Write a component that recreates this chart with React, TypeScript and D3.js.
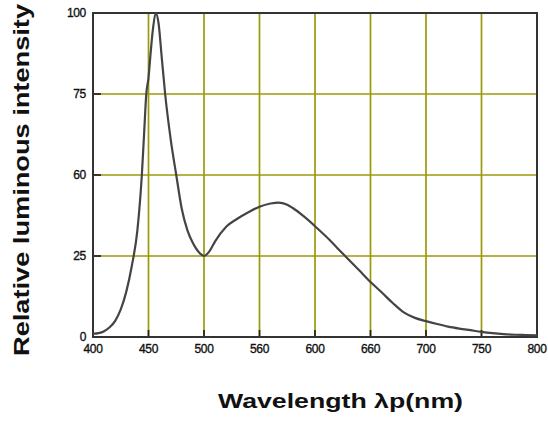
import { useEffect, useRef } from 'react';
import * as d3 from 'd3';

// wavelength (nm) / relative intensity (%)
const wavelengths = [
  400, 405, 410, 415, 420, 425, 430, 435, 440, 444, 446, 448, 450, 452, 454, 456.5,
  459, 462, 465, 470, 475, 480, 485, 490, 495, 500, 505, 510, 520, 530, 540, 550,
  560, 567, 575, 580, 590, 600, 610, 620, 630, 640, 650, 660, 670, 680, 690, 700,
  710, 720, 730, 740, 750, 760, 770, 780, 790, 800,
];
const intensity = [
  1.0, 1.2, 1.8, 3.0, 5.0, 8.5, 14, 22, 33, 50, 62.5, 75, 80, 88, 95, 100,
  97, 86, 75, 61, 50, 39.5, 33, 29, 26.3, 25, 26.5, 29.5, 34, 36.5, 38.5, 40.2,
  41.2, 41.5, 40.8, 39.8, 37.2, 34.2, 31, 27.5, 24, 20.5, 17, 13.8, 10.5, 7.6, 5.9, 4.9,
  4.0, 3.2, 2.6, 2.1, 1.6, 1.2, 0.9, 0.7, 0.6, 0.5,
];

const xTicks = [400, 450, 500, 550, 600, 650, 700, 750, 800];
const xTickLabels = ['400', '450', '500', '560', '600', '660', '700', '750', '800'];
const yTicks = [0, 25, 50, 75, 100];
const yTickLabels = ['0', '25', '60', '75', '100'];

const xTitle = 'Wavelength λp(nm)';
const yTitle = 'Relative luminous intensity';

const W = 548;
const H = 421;
const margin = { left: 93, right: 11, top: 13, bottom: 84 };

const App = () => {
  const svgRef = useRef<SVGSVGElement>(null);

  useEffect(() => {
    if (!svgRef.current) return;
    const svg = d3.select(svgRef.current);
    svg.selectAll('*').remove();

    const x = d3.scaleLinear().domain([400, 800]).range([margin.left, W - margin.right]);
    const y = d3.scaleLinear().domain([0, 100]).range([H - margin.bottom, margin.top]);

    const gridColor = '#9c9a0a';

    // grid
    svg
      .append('g')
      .selectAll('line')
      .data(xTicks.slice(1, -1))
      .join('line')
      .attr('x1', (d) => x(d))
      .attr('x2', (d) => x(d))
      .attr('y1', y(0))
      .attr('y2', y(100))
      .attr('stroke', gridColor)
      .attr('stroke-width', 1.7);

    svg
      .append('g')
      .selectAll('line')
      .data(yTicks.slice(1, -1))
      .join('line')
      .attr('x1', x(400))
      .attr('x2', x(800))
      .attr('y1', (d) => y(d))
      .attr('y2', (d) => y(d))
      .attr('stroke', gridColor)
      .attr('stroke-width', 1.7);

    // inward ticks
    svg
      .append('g')
      .selectAll('line')
      .data(xTicks.slice(1, -1))
      .join('line')
      .attr('x1', (d) => x(d))
      .attr('x2', (d) => x(d))
      .attr('y1', y(0))
      .attr('y2', y(0) - 7)
      .attr('stroke', '#222')
      .attr('stroke-width', 1.7);

    svg
      .append('g')
      .selectAll('line')
      .data(yTicks.slice(1, -1))
      .join('line')
      .attr('x1', x(400))
      .attr('x2', x(400) + 8)
      .attr('y1', (d) => y(d))
      .attr('y2', (d) => y(d))
      .attr('stroke', '#222')
      .attr('stroke-width', 1.7);

    // frame
    svg
      .append('rect')
      .attr('x', x(400))
      .attr('y', y(100))
      .attr('width', x(800) - x(400))
      .attr('height', y(0) - y(100))
      .attr('fill', 'none')
      .attr('stroke', '#333')
      .attr('stroke-width', 2);

    // curve
    const points = wavelengths.map((w, i) => [w, intensity[i]] as [number, number]);
    const line = d3
      .line<[number, number]>()
      .x((d) => x(d[0]))
      .y((d) => y(d[1]))
      .curve(d3.curveMonotoneX);

    svg
      .append('path')
      .datum(points)
      .attr('d', line)
      .attr('fill', 'none')
      .attr('stroke', '#444')
      .attr('stroke-width', 2.2)
      .attr('stroke-linejoin', 'round');

    // tick labels
    svg
      .append('g')
      .selectAll('text')
      .data(xTicks)
      .join('text')
      .attr('x', (d) => x(d))
      .attr('y', y(0) + 15.5)
      .attr('text-anchor', 'middle')
      .attr('font-family', 'Liberation Sans, Arial, sans-serif')
      .attr('font-size', 12)
      .attr('fill', '#111')
      .attr('stroke', '#111')
      .attr('stroke-width', 0.35)
      .attr('letter-spacing', -0.3)
      .text((d, i) => xTickLabels[i]);

    svg
      .append('g')
      .selectAll('text')
      .data(yTicks)
      .join('text')
      .attr('x', x(400) - 7)
      .attr('y', (d) => y(d) + 4)
      .attr('text-anchor', 'end')
      .attr('font-family', 'Liberation Sans, Arial, sans-serif')
      .attr('font-size', 12)
      .attr('fill', '#111')
      .attr('stroke', '#111')
      .attr('stroke-width', 0.35)
      .attr('letter-spacing', -0.3)
      .text((d, i) => yTickLabels[i]);

    // axis titles
    svg
      .append('text')
      .attr('x', 218)
      .attr('y', 408)
      .attr('font-family', 'Liberation Sans, Arial, sans-serif')
      .attr('font-weight', 'bold')
      .attr('font-size', 21)
      .attr('textLength', 245)
      .attr('lengthAdjust', 'spacingAndGlyphs')
      .attr('fill', '#111')
      .text(xTitle);

    svg
      .append('text')
      .attr('transform', 'translate(29,356) rotate(-90)')
      .attr('font-family', 'Liberation Sans, Arial, sans-serif')
      .attr('font-weight', 'bold')
      .attr('font-size', 22)
      .attr('textLength', 352)
      .attr('lengthAdjust', 'spacingAndGlyphs')
      .attr('fill', '#111')
      .text(yTitle);
  }, []);

  return (
    <svg
      ref={svgRef}
      width={W}
      height={H}
      style={{ position: 'absolute', left: 0, top: 0, background: '#fff' }}
    />
  );
};

export default App;
